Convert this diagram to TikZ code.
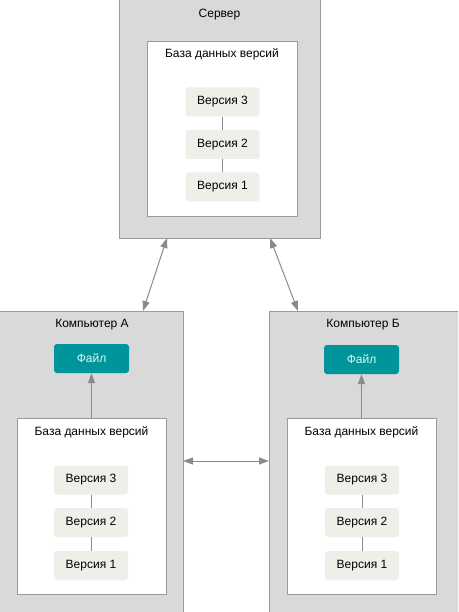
\documentclass[tikz,border=0pt]{standalone}
\usepackage{fontspec}
\setmainfont{Liberation Sans}
\usetikzlibrary{arrows.meta}
\definecolor{boxgrey}{HTML}{D9D9D9}
\definecolor{boxline}{HTML}{9A9A9A}
\definecolor{verfill}{HTML}{EFEEE8}
\definecolor{teal}{HTML}{00959A}
\definecolor{filetext}{HTML}{D8F6F6}
\definecolor{arrowgrey}{HTML}{8A8A8A}
\tikzset{
  x=1pt, y=-1pt,
  container/.style={draw=boxline, fill=boxgrey, line width=0.8pt, inner sep=0pt},
  dbbox/.style={draw=boxline, fill=white, line width=0.8pt, inner sep=0pt},
  verbox/.style={fill=verfill, rounded corners=3pt, minimum width=74pt, minimum height=29pt, inner sep=0pt, font=\fontsize{12}{14}\selectfont},
  filebox/.style={fill=teal, rounded corners=3pt, minimum width=75pt, minimum height=29pt, inner sep=0pt, text=filetext, font=\fontsize{12}{14}\selectfont},
  lbl/.style={inner sep=0pt, font=\fontsize{12}{14}\selectfont},
  link/.style={draw=arrowgrey, line width=0.8pt},
  arr/.style={draw=arrowgrey, line width=1pt, {Triangle[width=7pt,length=10pt]}-{Triangle[width=7pt,length=10pt]}},
  sarr/.style={draw=arrowgrey, line width=1pt, -{Triangle[width=7pt,length=10pt]}},
}
\begin{document}
\begin{tikzpicture}
\useasboundingbox (0,0) rectangle (458,612);
\clip (0,0) rectangle (458,612);
% Server
\node[container, minimum width=201pt, minimum height=258pt] (srv) at (219.5,109) {};
\node[lbl] (srvt) at (219.5,15) {Сервер};
\node[dbbox, minimum width=150pt, minimum height=175pt] (sdb) at (222,128.5) {};
\node[lbl] (sdbt) at (222,54) {База данных версий};
\node[verbox] (s3) at (222.5,102) {Версия 3};
\node[verbox] (s2) at (222.5,144.5) {Версия 2};
\node[verbox] (s1) at (222.5,187) {Версия 1};
\draw[link] (s3) -- (s2);
\draw[link] (s2) -- (s1);
% Computer A
\node[container, minimum width=203pt, minimum height=320pt] (ca) at (81.5,471) {};
\node[lbl] (cat) at (92,325) {Компьютер А};
\node[filebox] (fa) at (91.5,358.5) {Файл};
\node[dbbox, minimum width=149pt, minimum height=176pt] (adb) at (91.5,506) {};
\node[lbl] (adbt) at (91.5,432) {База данных версий};
\node[verbox] (a3) at (91,480) {Версия 3};
\node[verbox] (a2) at (91,522.5) {Версия 2};
\node[verbox] (a1) at (91,565.5) {Версия 1};
\draw[link] (a3) -- (a2);
\draw[link] (a2) -- (a1);
\draw[sarr] (adb.north) -- (fa.south);
% Computer B
\node[container, minimum width=210pt, minimum height=320pt] (cb) at (374,471) {};
\node[lbl] (cbt) at (363,325) {Компьютер Б};
\node[filebox] (fb) at (361.5,359.5) {Файл};
\node[dbbox, minimum width=149pt, minimum height=176pt] (bdb) at (361.5,506) {};
\node[lbl] (bdbt) at (361.5,432) {База данных версий};
\node[verbox] (b3) at (362,480) {Версия 3};
\node[verbox] (b2) at (362,522.5) {Версия 2};
\node[verbox] (b1) at (362,565.5) {Версия 1};
\draw[link] (b3) -- (b2);
\draw[link] (b2) -- (b1);
\draw[sarr] (bdb.north) -- (fb.south);
% connectors between machines
\coordinate (sl) at (167,238);
\coordinate (al) at (143,311);
\coordinate (sr) at (270,238);
\coordinate (br) at (298,311);
\coordinate (ah) at (183,461);
\coordinate (bh) at (269,461);
\draw[arr] (sl) -- (al);
\draw[arr] (sr) -- (br);
\draw[arr] (ah) -- (bh);
\end{tikzpicture}
\end{document}
